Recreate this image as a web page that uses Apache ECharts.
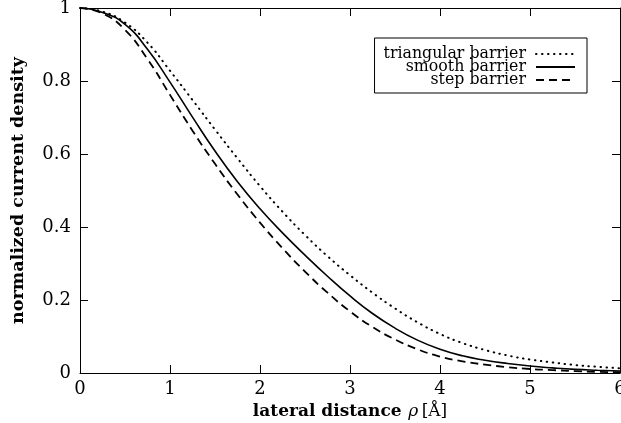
<!DOCTYPE html>
<html>
<head>
<meta charset="utf-8">
<script src="https://cdn.jsdelivr.net/npm/echarts@6/dist/echarts.min.js"></script>
<style>
html,body{margin:0;padding:0;background:#fff;}
#c{width:621px;height:423px;}
</style>
</head>
<body>
<div id="c"></div>
<script>
const xValues = [0, 0.25, 0.5, 0.75, 1.0, 1.25, 1.5, 1.75, 2.0, 2.25, 2.5, 2.75, 3.0, 3.25, 3.5, 3.75, 4.0, 4.25, 4.5, 4.75, 5.0, 5.25, 5.5, 5.75, 6.0];
const triangular = [1.0, 0.99, 0.96, 0.905, 0.828, 0.748, 0.667, 0.588, 0.512, 0.442, 0.378, 0.320, 0.268, 0.220, 0.177, 0.139, 0.107, 0.082, 0.063, 0.048, 0.037, 0.029, 0.022, 0.017, 0.013];
const smooth = [1.0, 0.988, 0.955, 0.887, 0.797, 0.701, 0.608, 0.524, 0.450, 0.384, 0.323, 0.265, 0.211, 0.163, 0.123, 0.090, 0.065, 0.047, 0.035, 0.026, 0.019, 0.014, 0.010, 0.0075, 0.0055];
const step = [1.0, 0.985, 0.94, 0.86, 0.762, 0.664, 0.573, 0.489, 0.412, 0.342, 0.278, 0.220, 0.169, 0.126, 0.092, 0.065, 0.045, 0.032, 0.023, 0.016, 0.011, 0.008, 0.005, 0.003, 0.002];
const seriesNames = ['triangular barrier', 'smooth barrier', 'step barrier'];
const xTicks = [0, 1, 2, 3, 4, 5, 6];
const yTicks = [0, 0.2, 0.4, 0.6, 0.8, 1];

const FONT = 'DejaVu Serif';
const pairs = arr => xValues.map((x, i) => [x, arr[i]]);

const baseAxis = {
  axisLine: {show: true, onZero: false, lineStyle: {color: '#000', width: 1}},
  axisTick: {show: true, inside: true, length: 8, lineStyle: {color: '#000', width: 1}},
  splitLine: {show: false}
};

const chart = echarts.init(document.getElementById('c'), null, {renderer: 'canvas'});
chart.setOption({
  animation: false,
  backgroundColor: '#fff',
  grid: {left: 80, right: 1, top: 8, bottom: 50, containLabel: false, outerBoundsMode: 'none'},
  legend: {
    orient: 'vertical',
    right: 34,
    top: 38,
    align: 'right',
    data: seriesNames,
    itemWidth: 39,
    itemHeight: 10,
    itemGap: -3,
    padding: [8, 11, 5, 9],
    borderColor: '#000',
    borderWidth: 1,
    itemStyle: {color: 'rgba(0,0,0,0)', borderWidth: 0, opacity: 0},
    textStyle: {fontFamily: FONT, fontSize: 15.8, color: '#000', padding: [0, 5, 0, 0]}
  },
  xAxis: [
    Object.assign({}, baseAxis, {
      type: 'value', min: xTicks[0], max: xTicks[xTicks.length - 1], interval: 1, position: 'bottom',
      axisLabel: {fontFamily: FONT, fontSize: 18, color: '#000', margin: 7,
        formatter: v => xTicks.includes(v) ? String(v) : ''},
      name: '{b|lateral distance}  {i|ρ} {n|[Å]}',
      nameLocation: 'middle',
      nameGap: 23,
      nameTextStyle: {
        color: '#000',
        rich: {
          b: {fontFamily: FONT, fontWeight: 'bold', fontSize: 17, color: '#000'},
          i: {fontFamily: FONT, fontStyle: 'italic', fontSize: 17, color: '#000'},
          n: {fontFamily: FONT, fontSize: 17, color: '#000'}
        }
      }
    }),
    Object.assign({}, baseAxis, {
      type: 'value', min: 0, max: 6, interval: 1, position: 'top',
      axisLabel: {show: false}
    })
  ],
  yAxis: [
    Object.assign({}, baseAxis, {
      type: 'value', min: yTicks[0], max: yTicks[yTicks.length - 1], interval: 0.2, position: 'left',
      axisLabel: {fontFamily: FONT, fontSize: 18, color: '#000', margin: 9,
        formatter: v => String(Math.round(v * 10) / 10)},
      name: 'normalized current density',
      nameLocation: 'middle',
      nameGap: 53,
      nameTextStyle: {fontFamily: FONT, fontWeight: 'bold', fontSize: 17.5, color: '#000'}
    }),
    Object.assign({}, baseAxis, {
      type: 'value', min: 0, max: 1, interval: 0.2, position: 'right',
      axisLabel: {show: false}
    })
  ],
  series: [
    {
      name: seriesNames[0], type: 'line', data: pairs(triangular), smooth: 0.5,
      symbol: 'none', showSymbol: false,
      lineStyle: {color: '#000', width: 2, type: [0.5, 5.5], cap: 'round'},
      itemStyle: {color: '#000'}
    },
    {
      name: seriesNames[1], type: 'line', data: pairs(smooth), smooth: 0.5,
      symbol: 'none', showSymbol: false,
      lineStyle: {color: '#000', width: 1.6, type: 'solid'},
      itemStyle: {color: '#000'}
    },
    {
      name: seriesNames[2], type: 'line', data: pairs(step), smooth: 0.5,
      symbol: 'none', showSymbol: false,
      lineStyle: {color: '#000', width: 1.8, type: [8, 5]},
      itemStyle: {color: '#000'}
    }
  ]
});
</script>
</body>
</html>
